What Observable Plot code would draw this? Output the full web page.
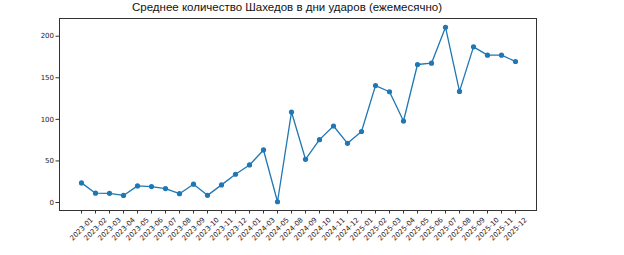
<!DOCTYPE html>
<html>
<head>
<meta charset="utf-8">
<script src="https://cdn.jsdelivr.net/npm/d3@7"></script>
<script src="https://cdn.jsdelivr.net/npm/@observablehq/plot@0.6"></script>
<style>
  html, body { margin: 0; padding: 0; background: #fff; }
</style>
</head>
<body>
<div id="chart"></div>
<script>
const title = "Среднее количество Шахедов в дни ударов (ежемесячно)";
const months = [
  "2023-01","2023-02","2023-03","2023-04","2023-05","2023-06","2023-07","2023-08",
  "2023-09","2023-10","2023-11","2023-12","2024-01","2024-03","2024-05","2024-08",
  "2024-09","2024-10","2024-11","2024-12","2025-01","2025-02","2025-03","2025-04",
  "2025-05","2025-06","2025-07","2025-08","2025-09","2025-10","2025-11","2025-12"
];
const avgShaheds = [
  23.6, 11.2, 11, 8.5, 20, 19.2, 16.8, 10.6,
  22, 8.6, 21.2, 34, 45.2, 63.2, 0.9, 108.8,
  52, 75.6, 92, 71.2, 85.4, 140.6, 133.2, 98,
  166, 167.6, 210.8, 133.6, 187.2, 177.2, 177.2, 169.6
];
const yTicks = [0, 50, 100, 150, 200];

const data = months.map((m, i) => ({month: m, value: avgShaheds[i]}));
const blue = "#1f77b4";

const chart = Plot.plot({
  width: 624,
  height: 255,
  marginLeft: 59,
  marginRight: 88,
  marginTop: 18,
  marginBottom: 45,
  style: {fontFamily: "DejaVu Sans", fontSize: "7px", color: "#222", background: "#fff"},
  x: {type: "point", domain: months, padding: 1.5, axis: null},
  y: {domain: [-9.6, 221.3], axis: null},
  marks: [
    Plot.frame({stroke: "#333", strokeWidth: 1}),
    Plot.axisY(yTicks, {tickSize: 3.5, tickPadding: 2, stroke: "#333", fill: "#222", fontSize: 7, label: null}),
    Plot.axisX(months, {tickSize: 3.5, text: null, stroke: "#333", label: null}),
    Plot.text(months, {x: d => d, frameAnchor: "bottom", dy: 18.5, rotate: -45, textAnchor: "middle", lineAnchor: "middle", fontSize: 7, fill: "#222"}),
    Plot.line(data, {x: "month", y: "value", stroke: blue, strokeWidth: 1.3}),
    Plot.dot(data, {x: "month", y: "value", r: 2.6, fill: blue, stroke: null}),
    Plot.text([title], {frameAnchor: "top", dx: -11, dy: -7.5, fontFamily: "Liberation Sans", fontSize: 11.5, fill: "#111", lineAnchor: "bottom", textAnchor: "middle"})
  ]
});
document.getElementById("chart").appendChild(chart);
</script>
</body>
</html>
